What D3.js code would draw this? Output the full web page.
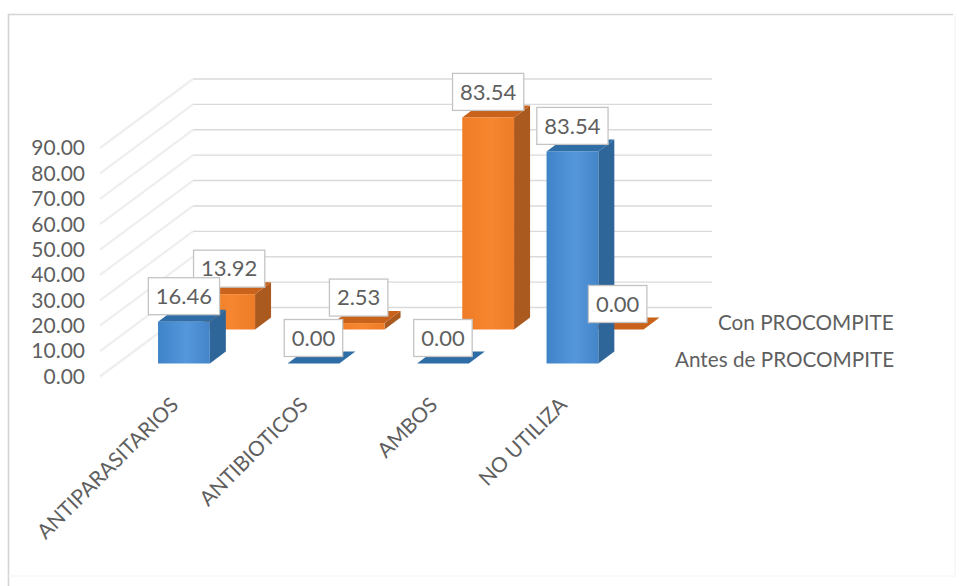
<!DOCTYPE html>
<html><head><meta charset="utf-8">
<script src="https://cdn.jsdelivr.net/npm/d3@7/dist/d3.min.js"></script>
<style>html,body{margin:0;padding:0;background:#fff}svg{display:block}text{font-family:Lato,"Open Sans",sans-serif;fill:#5f5f5f}</style>
</head><body><svg id="c" width="959" height="586"></svg>
<script>
const categories = ["ANTIPARASITARIOS","ANTIBIOTICOS","AMBOS","NO UTILIZA"];
const seriesNames = ["Antes de PROCOMPITE","Con PROCOMPITE"];
const antes = [16.46,0,0,83.54];
const con = [13.92,2.53,83.54,0];
const ticks = [0,10,20,30,40,50,60,70,80,90];

const svg = d3.select("#c");
const defs = svg.append("defs");
const grad = (id, a, b, c) => {
  const g = defs.append("linearGradient").attr("id", id);
  g.append("stop").attr("offset","0").attr("stop-color",a);
  g.append("stop").attr("offset","0.55").attr("stop-color",b);
  g.append("stop").attr("offset","1").attr("stop-color",c);
};
grad("gb","#3f83c8","#5597db","#4485c8");
grad("go","#ef7c26","#f6862f","#ee7c28");
const blur = defs.append("filter").attr("id","soft");
blur.append("feGaussianBlur").attr("stdDeviation","0.7");

// frame
svg.append("path").attr("d","M8.5,586V14.5H953").attr("fill","none").attr("stroke","#d4d4d4").attr("stroke-width",1.6).attr("filter","url(#soft)");
svg.append("path").attr("d","M955,14.5V576H8.5").attr("fill","none").attr("stroke","#f4f4f4").attr("stroke-width",1.2).attr("filter","url(#soft)");

const y = d3.scaleLinear().domain([0,90]).range([376.5,148]);
const x = d3.scaleBand().domain(categories).range([76,645.8]).paddingInner(0.6).paddingOuter(0.5);
// depth offset of each series on the floor, in screen pixels upward
const depthY = d3.scalePoint().domain(seriesNames).range([13,47]);
const slope = 1.33;           // horizontal shift per pixel of depth
const barDepthY = 12, barDepthX = 16;
const wallDepthY = 69, wallDepthX = 93, wallX = 100, wallEnd = 712;

// walls
const grid = svg.append("g").attr("fill","none");
ticks.forEach(t => {
  const yf = y(t), yb = yf - wallDepthY;
  grid.append("path").attr("d",`M${wallX},${yf}L${wallX+wallDepthX},${yb}`).attr("stroke","#eaeaea").attr("stroke-width",2.2).attr("stroke-opacity",.8).attr("filter","url(#soft)");
  grid.append("path").attr("d",`M${wallX+wallDepthX},${yb}H${wallEnd}`).attr("stroke","#dadada").attr("stroke-width",1.4);
});

// axis labels
svg.append("g").selectAll("text").data(ticks).join("text")
  .attr("x",85).attr("y",d=>y(d)).attr("dy","0.35em").attr("text-anchor","end")
  .attr("font-size",21).text(d=>d.toFixed(2));

// bars
const palette = {
  [seriesNames[0]]:{front:"url(#gb)",side:"#2f6699",top:"#2e6da6"},
  [seriesNames[1]]:{front:"url(#go)",side:"#ab5a1f",top:"#c9621a"}
};
const rows = [
  {name:seriesNames[1],values:con},
  {name:seriesNames[0],values:antes}
];
const labels = [];
rows.forEach(s => {
  const c = palette[s.name], d0 = depthY(s.name);
  const g = svg.append("g");
  s.values.forEach((v,i) => {
    const base = y(0) - d0;
    const hgt = y(0) - y(v);
    const xl = x(categories[i]) + d0*slope, w = x.bandwidth();
    const top = base - hgt;
    g.append("path").attr("fill",c.side).attr("d",
      `M${xl+w},${base}L${xl+w+barDepthX},${base-barDepthY}V${top-barDepthY}L${xl+w},${top}Z`);
    g.append("path").attr("fill",c.top).attr("d",
      `M${xl},${top}L${xl+barDepthX},${top-barDepthY}H${xl+w+barDepthX}L${xl+w},${top}Z`);
    g.append("rect").attr("x",xl).attr("y",top).attr("width",w).attr("height",hgt).attr("fill",c.front);
    labels.push({v,cx:xl+w/2,bottom:top-7});
  });
});

// data labels
const lg = svg.append("g");
labels.forEach(l => {
  const g = lg.append("g");
  const r = g.append("rect").attr("fill","#fff").attr("stroke","#c4c4c4").attr("stroke-width",1.3);
  const t = g.append("text").attr("x",l.cx).attr("y",l.bottom-18.5).attr("dy","0.35em")
    .attr("text-anchor","middle").attr("font-size",22).text(l.v.toFixed(2));
  const w = t.node().getComputedTextLength()+15;
  r.attr("x",l.cx-w/2).attr("y",l.bottom-37).attr("width",w).attr("height",37);
});

// category labels
svg.append("g").selectAll("text").data(categories).join("text")
  .attr("transform",d=>`translate(${x(d)+x.bandwidth()/2+8},401) rotate(-45)`)
  .attr("text-anchor","end").attr("dy","0.35em").attr("font-size",20.8).text(d=>d);

// legend (series names at the depth axis)
const legendY = d3.scalePoint().domain(seriesNames).range([360,323]);
const legendX = d3.scaleOrdinal().domain(seriesNames).range([675,718]);
svg.append("g").selectAll("text").data(seriesNames).join("text")
  .attr("x",d=>legendX(d)).attr("y",d=>legendY(d)).attr("dy","0.35em")
  .attr("font-size",20.7).text(d=>d);
</script></body></html>
